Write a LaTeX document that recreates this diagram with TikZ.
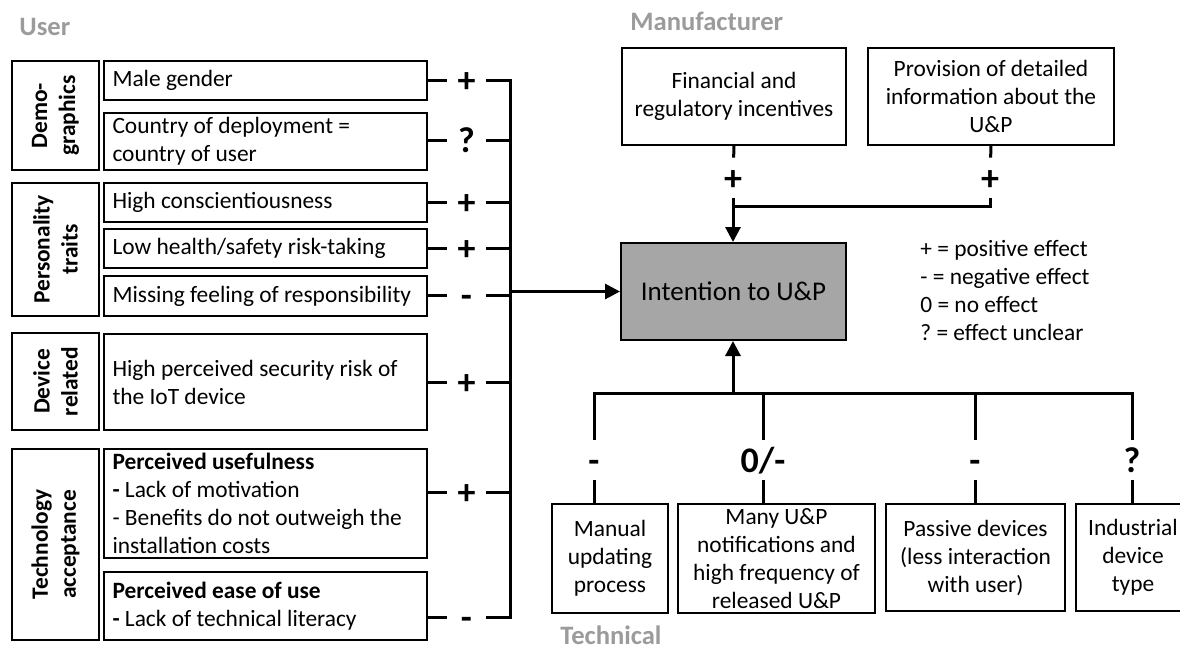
\documentclass[tikz,border=0pt]{standalone}
\usepackage{fontspec}
\setmainfont{Carlito}
\usepackage{tikz}
\usetikzlibrary{arrows.meta,positioning,calc}
\definecolor{upInk}{HTML}{000000}
\definecolor{upBox}{HTML}{A6A6A6}
\definecolor{upLabel}{HTML}{9B9B9B}
\frenchspacing

\begin{document}
\begin{tikzpicture}[x=0.5pt,y=-0.5pt,font=\fontsize{11.7}{14}\selectfont]
    \tikzset{
      catbox/.style={draw=upInk,line width=1pt,anchor=north west,minimum width=43.5pt,inner sep=0pt},
      catname/.style={rotate=90,align=center,inner sep=0pt,font=\fontsize{11.7}{14}\selectfont\bfseries},
      item/.style={draw=upInk,line width=1pt,anchor=north west,minimum width=161.5pt,text width=153pt,inner xsep=4.25pt,inner ysep=0pt,align=flush left},
      factor/.style={draw=upInk,line width=1pt,anchor=north west,align=center,inner sep=0pt},
      effect/.style={inner sep=0pt,text height=12pt,text depth=0pt,font=\fontsize{18}{18}\selectfont\bfseries},
      effecth/.style={effect,minimum width=19.5pt},
      effectv/.style={effect,minimum height=20pt},
      link/.style={draw=upInk,line width=1.5pt},
      flow/.style={link,-{Triangle[length=7.5pt,width=7.5pt]}},
      head/.style={anchor=west,inner sep=0pt,text=upLabel,font=\fontsize{13.3}{16}\selectfont\bfseries}
    }
    \useasboundingbox (0,0) rectangle (1180,649);
    \node[head] (user) at (19,27) {User};
    \node[catbox,minimum height=54.5pt] (demo) at (11,60) {};
    \node[catname] (demoT) at (demo.center) {Demo-\\graphics};
    \node[catbox,minimum height=66.5pt] (pers) at (11,182) {};
    \node[catname] (persT) at (pers.center) {Personality\\traits};
    \node[catbox,minimum height=48.5pt] (dev) at (11,332) {};
    \node[catname] (devT) at (dev.center) {Device\\related};
    \node[catbox,minimum height=95.5pt] (tam) at (11,448) {};
    \node[catname] (tamT) at (tam.center) {Technology\\acceptance};
    \node[item,minimum height=19.5pt] (male) at (103,60) {Male gender};
    \node[item,minimum height=28.5pt] (country) at (103,112) {Country of deployment =\\country of user};
    \node[item,minimum height=19.5pt] (consc) at (103,182) {High conscientiousness};
    \node[item,minimum height=19.5pt] (risk) at (103,228) {Low health/safety risk-taking};
    \node[item,minimum height=20pt] (resp) at (103,275) {Missing feeling of responsibility};
    \node[item,minimum height=48pt] (secur) at (103,333) {High perceived security risk of\\the IoT device};
    \node[item,minimum height=54.5pt] (useful) at (103,448) {\textbf{Perceived usefulness}\\\textbf{-} Lack of motivation\\- Benefits do not outweigh the\\installation costs};
    \node[item,minimum height=34pt] (ease) at (103,571) {\textbf{Perceived ease of use}\\\textbf{-} Lack of technical literacy};
    \node[effecth] (eMale) at (466.5,80) {+};
    \node[effecth] (eCountry) at (466.5,140) {?};
    \node[effecth] (eConsc) at (466.5,202) {+};
    \node[effecth] (eRisk) at (466.5,248) {+};
    \node[effecth] (eResp) at (466.5,295) {-};
    \node[effecth] (eSecur) at (466.5,382) {+};
    \node[effecth] (eUseful) at (466.5,492) {+};
    \node[effecth] (eEase) at (466.5,617) {-};
    \coordinate (bus) at (510,80);
    \draw[link] (male.east |- eMale) -- (eMale);
    \draw[link] (country.east |- eCountry) -- (eCountry);
    \draw[link] (consc.east |- eConsc) -- (eConsc);
    \draw[link] (risk.east |- eRisk) -- (eRisk);
    \draw[link] (resp.east |- eResp) -- (eResp);
    \draw[link] (secur.east |- eSecur) -- (eSecur);
    \draw[link] (useful.east |- eUseful) -- (eUseful);
    \draw[link] (ease.east |- eEase) -- (eEase);
    \draw[link] (eMale) -- (bus) -- (bus |- eEase) -- (eEase);
    \draw[link] (eCountry) -- (eCountry -| bus);
    \draw[link] (eConsc) -- (eConsc -| bus);
    \draw[link] (eRisk) -- (eRisk -| bus);
    \draw[link] (eResp) -- (eResp -| bus);
    \draw[link] (eSecur) -- (eSecur -| bus);
    \draw[link] (eUseful) -- (eUseful -| bus);
    \node[factor,minimum width=112.5pt,minimum height=48.5pt,fill=upBox,font=\fontsize{13.5}{16}\selectfont] (main) at (620,242) {Intention to U\&P};
    \draw[flow] (bus |- main) -- (main);
    \node[head] (manu) at (630,21) {Manufacturer};
    \node[factor,minimum width=112pt,minimum height=48.5pt] (fin) at (621,47) {Financial and\\regulatory incentives};
    \node[factor,minimum width=123pt,minimum height=48.5pt] (prov) at (867,47) {Provision of detailed\\information about the\\U\&P};
    \node[effectv] (eFin) at (733,178) {+};
    \node[effectv] (eProv) at (990,178) {+};
    \coordinate (mJoin) at (733,206);
    \draw[link] (fin.south) -- (eFin);
    \draw[link] (prov.south) -- (eProv);
    \draw[link] (eProv) |- (mJoin);
    \draw[flow] (eFin) -- (eFin |- main.north);
    \node[anchor=west,align=flush left,inner sep=0pt] (legend) at (920,290) {+ = positive effect\\- = negative effect\\0 = no effect\\? = effect unclear};
    \coordinate (tJoin) at (733,393);
    \draw[flow] (tJoin) -- (tJoin |- main.south);
    \node[effectv] (eMan) at (594,460) {-};
    \node[effectv] (eMany) at (763,460) {0/-};
    \node[effectv] (ePas) at (975,460) {-};
    \node[effectv] (eInd) at (1132,460) {?};
    \draw[link] (eMan) -- (eMan |- tJoin) -- (eInd |- tJoin) -- (eInd);
    \draw[link] (eMany) -- (eMany |- tJoin);
    \draw[link] (ePas) -- (ePas |- tJoin);
    \node[factor,minimum width=58pt,minimum height=54.5pt] (manual) at (551,503) {Manual\\updating\\process};
    \node[factor,minimum width=98.5pt,minimum height=54.5pt] (many) at (677,503) {Many U\&P\\notifications and\\high frequency of\\released U\&P};
    \node[factor,minimum width=89.5pt,minimum height=53.5pt] (passive) at (885,503) {Passive devices\\(less interaction\\with user)};
    \node[factor,minimum width=57pt,minimum height=53.5pt] (indus) at (1075,503) {Industrial\\device\\type};
    \draw[link] (eMan) -- (eMan |- manual.north);
    \draw[link] (eMany) -- (eMany |- many.north);
    \draw[link] (ePas) -- (ePas |- passive.north);
    \draw[link] (eInd) -- (eInd |- indus.north);
    \node[head] (tech) at (560,635) {Technical};
  \end{tikzpicture}
\end{document}
